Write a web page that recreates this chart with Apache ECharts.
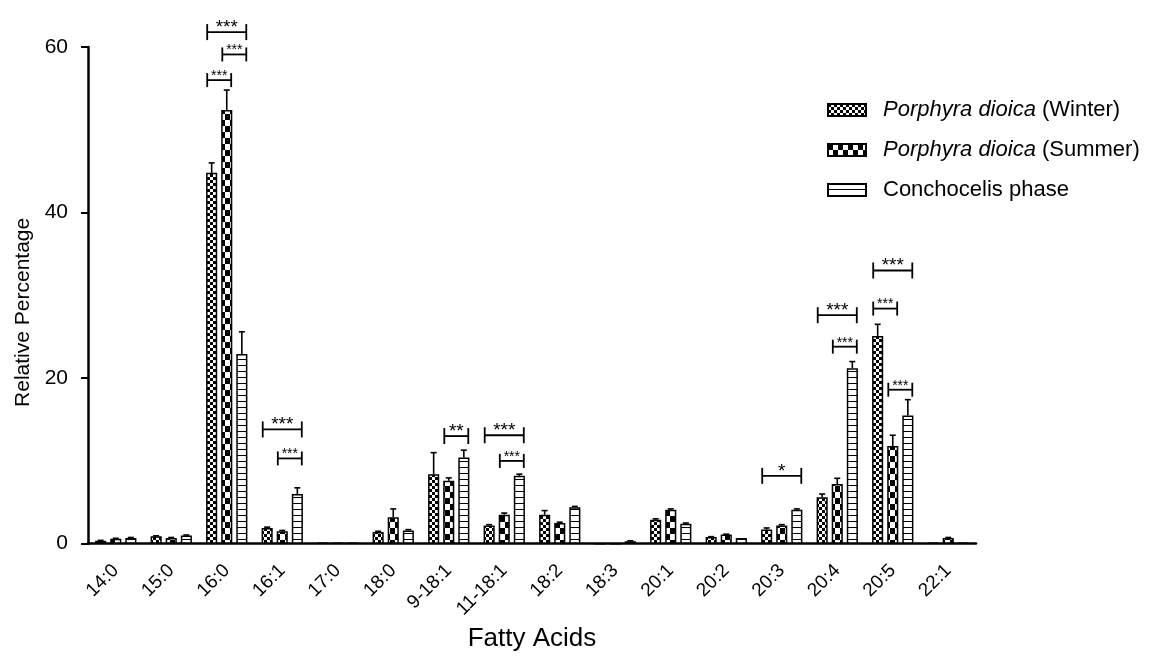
<!DOCTYPE html>
<html>
<head>
<meta charset="utf-8">
<script src="https://cdn.jsdelivr.net/npm/echarts@6/dist/echarts.min.js"></script>
<style>
html,body{margin:0;padding:0;background:#fff;}
#chart{width:1165px;height:657px;}
</style>
</head>
<body>
<div id="chart"></div>
<script>
// ---------- data ----------
const categories = ['14:0','15:0','16:0','16:1','17:0','18:0','9-18:1','11-18:1','18:2','18:3','20:1','20:2','20:3','20:4','20:5','22:1'];
const seriesNames = ['Porphyra dioica (Winter)','Porphyra dioica (Summer)','Conchocelis phase'];
const winter    = [0.35,0.9,44.8,1.9,0.1,1.4,8.4,2.2,3.5,0,2.9,0.8,1.7,5.6,25.1,0.1];
const winterErr = [0.05,0.05,1.2,0.1,0,0.1,2.6,0.1,0.5,0,0.1,0.05,0.2,0.4,1.4,0];
const summer    = [0.6,0.7,52.4,1.5,0.1,3.2,7.6,3.5,2.5,0,4.1,1.1,2.2,7.2,11.8,0.7];
const summerErr = [0.05,0.05,2.4,0.1,0,1.0,0.35,0.2,0.1,0,0.1,0.05,0.1,0.7,1.3,0.05];
const conch     = [0.7,1.0,22.9,6.0,0.1,1.6,10.4,8.2,4.4,0.3,2.4,0.7,4.1,21.2,15.5,0.1];
const conchErr  = [0.05,0.05,2.7,0.75,0,0.1,0.9,0.2,0.1,0.05,0.1,0,0.1,0.8,1.9,0];
const yTicks = [0,20,40,60];
// significance brackets: [category, fromSeries, toSeries, y, stars]
const brackets = [
  ['16:0',0,2,61.8,'***'],
  ['16:0',1,2,59.1,'***'],
  ['16:0',0,1,56.0,'***'],
  ['16:1',0,2,13.8,'***'],
  ['16:1',1,2,10.3,'***'],
  ['9-18:1',1,2,13.0,'**'],
  ['11-18:1',0,2,13.1,'***'],
  ['11-18:1',1,2,10.0,'***'],
  ['20:3',0,2,8.2,'*'],
  ['20:4',0,2,27.6,'***'],
  ['20:4',1,2,23.8,'***'],
  ['20:5',0,2,33.0,'***'],
  ['20:5',0,1,28.4,'***'],
  ['20:5',1,2,18.6,'***']
];

// ---------- styling helpers ----------
const FONT = '"Liberation Sans", Arial, Helvetica, sans-serif';
const BAR_FRAC = 0.2;   // bar width as fraction of category band
const GAP_FRAC = 0.36;  // gap between bars relative to bar width

function makePattern(w, h, draw) {
  const c = document.createElement('canvas');
  c.width = w; c.height = h;
  const ctx = c.getContext('2d');
  ctx.fillStyle = '#fff'; ctx.fillRect(0, 0, w, h);
  ctx.fillStyle = '#000';
  draw(ctx);
  return { image: c, repeat: 'repeat' };
}
const patWinter = makePattern(6, 6, ctx => { ctx.fillRect(0,0,3,3); ctx.fillRect(3,3,3,3); });
const patSummer = makePattern(10, 12, ctx => { ctx.fillRect(0,0,5,6); ctx.fillRect(5,6,5,6); });
const patConch  = makePattern(6, 6, ctx => { ctx.fillRect(0,5,6,1); });
const patterns = [patWinter, patSummer, patConch];
const values = [winter, summer, conch];
const errs = [winterErr, summerErr, conchErr];

function barOffset(api, s) {
  const band = api.size([1, 0])[0];
  const bw = band * BAR_FRAC;
  return { off: (s - 1) * bw * (1 + GAP_FRAC), bw: bw };
}

const errData = [];
for (let s = 0; s < 3; s++) {
  for (let i = 0; i < categories.length; i++) {
    errData.push([i, values[s][i], errs[s][i], s]);
  }
}
const bracketData = brackets.map(b => [categories.indexOf(b[0]), b[3], b[1], b[2]]);
const bracketLabels = brackets.map(b => b[4]);
const bracketBig = brackets.map(b => {
  const n = brackets.filter(o => o[0] === b[0]).length;
  return (b[1] === 0 && b[2] === 2) || n === 1;
});

const chart = echarts.init(document.getElementById('chart'), null, { renderer: 'canvas' });

const barSeries = seriesNames.map((name, s) => ({
  name: name,
  type: 'bar',
  data: values[s],
  barWidth: (BAR_FRAC * 100) + '%',
  barGap: (GAP_FRAC * 100) + '%',
  itemStyle: { color: patterns[s], borderColor: '#000', borderWidth: 1.5 },
  emphasis: { disabled: true },
  animation: false,
  z: 2
}));

const option = {
  backgroundColor: '#fff',
  animation: false,
  textStyle: { fontFamily: FONT, color: '#000' },
  grid: { left: 88, right: 189, top: 47, bottom: 110, containLabel: false },
  legend: {
    orient: 'vertical',
    left: 822,
    top: 94,
    itemWidth: 38,
    itemHeight: 12,
    itemGap: 18,
    icon: 'rect',
    data: seriesNames,
    formatter: function (name) {
      if (name.indexOf('Porphyra dioica') === 0) {
        return '{i|Porphyra dioica}' + name.slice('Porphyra dioica'.length);
      }
      return name;
    },
    textStyle: {
      fontFamily: FONT, fontSize: 22, color: '#000', padding: [0, 0, 0, 12],
      rich: { i: { fontFamily: FONT, fontSize: 22, fontStyle: 'italic', color: '#000' } }
    }
  },
  xAxis: {
    type: 'category',
    data: categories,
    name: 'Fatty Acids',
    nameLocation: 'middle',
    nameGap: 82,
    nameTextStyle: { fontFamily: FONT, fontSize: 26, color: '#000' },
    axisLine: { lineStyle: { color: '#000', width: 2.5 } },
    axisTick: { alignWithLabel: true, length: 10, lineStyle: { color: '#000', width: 3 } },
    axisLabel: { rotate: 45, fontFamily: FONT, fontSize: 19, color: '#000', margin: 24 },
    splitLine: { show: false }
  },
  yAxis: {
    type: 'value',
    min: 0, max: 60, interval: 20,
    name: 'Relative Percentage',
    nameLocation: 'middle',
    nameGap: 52,
    nameTextStyle: { fontFamily: FONT, fontSize: 21, color: '#000', padding: [0, 34, 0, 0] },
    axisLine: { show: true, lineStyle: { color: '#000', width: 2.5 } },
    axisTick: { show: true, length: 7, lineStyle: { color: '#000', width: 2 } },
    axisLabel: {
      fontFamily: FONT, fontSize: 21, color: '#000', margin: 20,
      formatter: v => (yTicks.indexOf(v) >= 0 ? String(v) : '')
    },
    splitLine: { show: false }
  },
  series: barSeries.concat([
    {
      type: 'custom',
      name: 'errors',
      data: errData,
      encode: { x: 0, y: 1 },
      z: 3,
      clip: false,
      silent: true,
      renderItem: function (params, api) {
        const cat = api.value(0), v = api.value(1), e = api.value(2), s = api.value(3);
        if (!(e > 0)) return null;
        const o = barOffset(api, s);
        const base = api.coord([cat, v]);
        const top = api.coord([cat, v + e]);
        const x = base[0] + o.off;
        const cw = 3;
        const st = { stroke: '#000', lineWidth: 1.6 };
        return {
          type: 'group',
          children: [
            { type: 'line', shape: { x1: x, y1: base[1], x2: x, y2: top[1] }, style: st },
            { type: 'line', shape: { x1: x - cw, y1: top[1], x2: x + cw, y2: top[1] }, style: st }
          ]
        };
      }
    },
    {
      type: 'custom',
      name: 'significance',
      data: bracketData,
      encode: { x: 0, y: 1 },
      z: 4,
      clip: false,
      silent: true,
      renderItem: function (params, api) {
        const cat = api.value(0), y = api.value(1), f = api.value(2), t = api.value(3);
        const p = api.coord([cat, y]);
        const fo = barOffset(api, f), to = barOffset(api, t);
        const x1 = p[0] + fo.off - fo.bw * 0.4;
        const x2 = p[0] + to.off + to.bw * 0.4;
        const big = bracketBig[params.dataIndex];
        const h = big ? 8 : 7;
        const st = { stroke: '#000', lineWidth: 1.8 };
        return {
          type: 'group',
          children: [
            { type: 'line', shape: { x1: x1, y1: p[1], x2: x2, y2: p[1] }, style: st },
            { type: 'line', shape: { x1: x1, y1: p[1] - h, x2: x1, y2: p[1] + h }, style: st },
            { type: 'line', shape: { x1: x2, y1: p[1] - h, x2: x2, y2: p[1] + h }, style: st },
            {
              type: 'text',
              style: {
                x: (x1 + x2) / 2, y: p[1] + (big ? 5 : 3),
                text: bracketLabels[params.dataIndex],
                fontFamily: FONT, fontSize: big ? 19 : 14,
                fill: '#000', align: 'center', verticalAlign: 'bottom'
              }
            }
          ]
        };
      }
    }
  ])
};
chart.setOption(option);
</script>
</body>
</html>
